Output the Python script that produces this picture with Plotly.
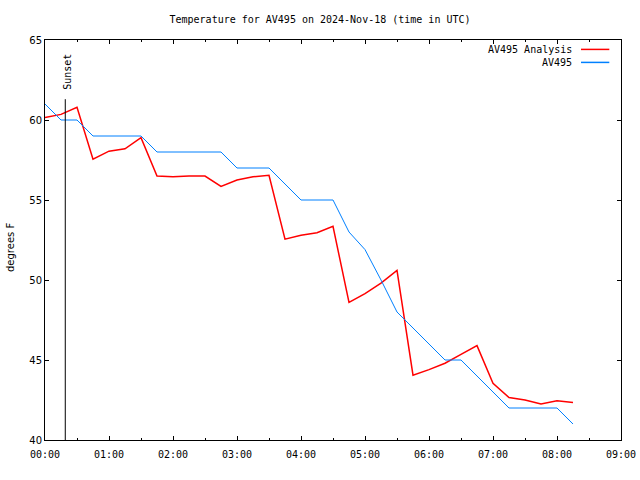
import plotly.graph_objects as go

day = "2024-11-18"

blue_times = ["00:00", "00:15", "00:30", "00:45", "01:00", "01:15", "01:30", "01:45",
              "02:00", "02:15", "02:30", "02:45", "03:00", "03:15", "03:30", "03:45",
              "04:00", "04:15", "04:30", "04:45", "05:00", "05:15", "05:30", "05:45",
              "06:00", "06:15", "06:30", "06:45", "07:00", "07:15", "07:30", "07:45",
              "08:00", "08:15"]
blue_vals = [61, 60, 60, 59, 59, 59, 59, 58,
             58, 58, 58, 58, 57, 57, 57, 56,
             55, 55, 55, 53, 51.9, 50, 48, 47,
             46, 45, 45, 44, 43, 42, 42, 42,
             42, 41]

red_times = blue_times
red_vals = [60.15, 60.35, 60.8, 57.55, 58.05, 58.2, 58.9, 56.5,
            56.45, 56.5, 56.5, 55.85, 56.25, 56.45, 56.55, 52.55,
            52.8, 52.95, 53.35, 48.6, 49.15, 49.8, 50.6, 44.05,
            44.4, 44.8, 45.35, 45.9, 43.55, 42.65, 42.5, 42.25,
            42.45, 42.35]

sunset_time = "00:19"
sunset_top = 61.3

x_tick_labels = ["00:00", "01:00", "02:00", "03:00", "04:00", "05:00",
                 "06:00", "07:00", "08:00", "09:00"]
y_ticks = [40, 45, 50, 55, 60, 65]

RED = "#ff0000"
BLUE = "#0080ff"
MONO = "DejaVu Sans Mono"

def ts(t):
    return f"{day} {t}:00"

fig = go.Figure()
fig.add_trace(go.Scatter(x=[ts(t) for t in red_times], y=red_vals, mode="lines",
                         line=dict(color=RED, width=1.5), name="AV495 Analysis",
                         showlegend=False))
fig.add_trace(go.Scatter(x=[ts(t) for t in blue_times], y=blue_vals, mode="lines",
                         line=dict(color=BLUE, width=1), name="AV495",
                         showlegend=False))

# Sunset line
fig.add_shape(type="line", x0=ts(sunset_time), x1=ts(sunset_time), y0=40, y1=sunset_top,
              xref="x", yref="y", line=dict(color="black", width=1))
fig.add_annotation(x=ts(sunset_time), y=sunset_top + 0.45, xref="x", yref="y",
                   text="Sunset", textangle=-90, showarrow=False,
                   xanchor="center", yanchor="bottom", xshift=1.5,
                   font=dict(family=MONO, size=10, color="black"))

# Custom legend (gnuplot style: text right, sample line on the right)
legend_items = [("AV495 Analysis", RED, 0.9765), ("AV495", BLUE, 0.9440)]
for name, col, yp in legend_items:
    fig.add_annotation(x=0.9184, y=yp, xref="paper", yref="paper", text=name,
                       showarrow=False, xanchor="right", yanchor="middle",
                       font=dict(family=MONO, size=10, color="black"))
    fig.add_shape(type="line", x0=0.9306, x1=0.9797, y0=yp, y1=yp,
                  xref="paper", yref="paper", line=dict(color=col, width=1.5))

# y axis label
fig.add_annotation(x=-0.0608, y=0.4825, xref="paper", yref="paper", text="degrees F",
                   textangle=-90, showarrow=False, xanchor="center", yanchor="middle",
                   font=dict(family="DejaVu Sans", size=10, color="black"))

fig.update_layout(
    width=640, height=480,
    margin=dict(l=45, r=19, t=40, b=40, autoexpand=False),
    paper_bgcolor="white", plot_bgcolor="white",
    title=dict(text="Temperature for AV495 on 2024-Nov-18 (time in UTC)",
               x=0.5, xanchor="center", y=0.96, yanchor="middle",
               font=dict(family=MONO, size=10, color="black")),
    showlegend=False,
)

fig.update_xaxes(
    type="date", automargin=False,
    range=[ts("00:00"), ts("09:00")],
    tickvals=[ts(t) for t in x_tick_labels],
    ticktext=x_tick_labels,
    ticks="inside", ticklen=4, tickcolor="black",
    ticklabelstandoff=5,
    minor=dict(dtick=1800000, ticks="inside", ticklen=2, tickcolor="black", showgrid=False),
    showline=True, linecolor="black", linewidth=1, mirror="ticks",
    showgrid=False, zeroline=False,
    tickfont=dict(family=MONO, size=10, color="black"),
)
fig.update_yaxes(
    range=[40, 65], automargin=False,
    tickvals=y_ticks,
    ticks="inside", ticklen=4, tickcolor="black",
    showline=True, linecolor="black", linewidth=1, mirror="ticks",
    showgrid=False, zeroline=False,
    tickfont=dict(family="DejaVu Sans", size=10, color="black"),
)

fig.write_html("out.html")
